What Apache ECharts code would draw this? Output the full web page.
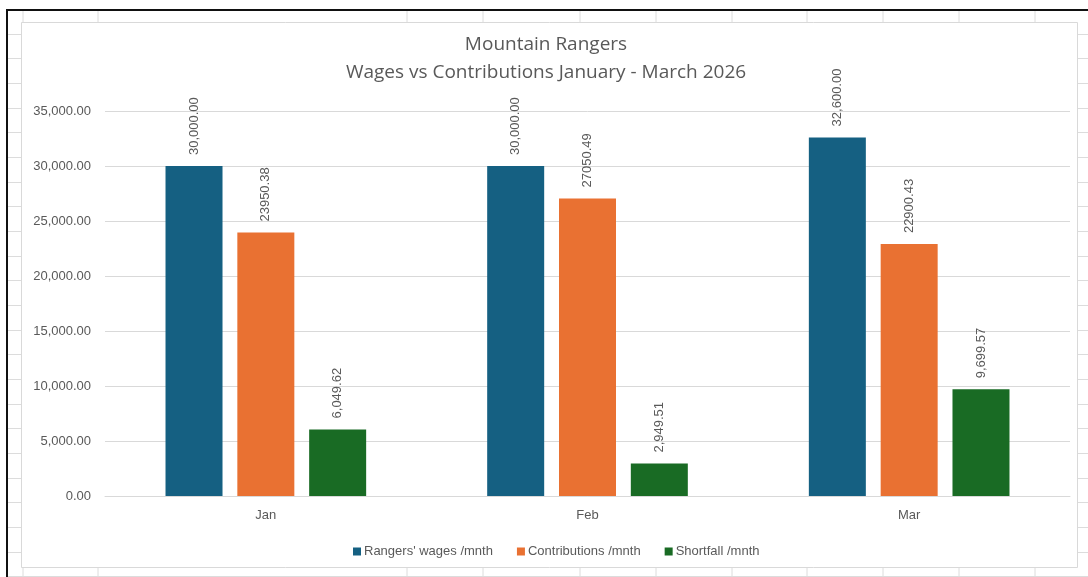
<!DOCTYPE html>
<html>
<head>
<meta charset="utf-8">
<script src="https://cdn.jsdelivr.net/npm/echarts@6/dist/echarts.min.js"></script>
<style>
  html, body { margin: 0; padding: 0; background: #fff; }
  #chart { width: 1088px; height: 577px; }
</style>
</head>
<body>
<div id="chart"></div>
<script>
// data
const months = ['Jan', 'Feb', 'Mar'];
const wages = [30000.00, 30000.00, 32600.00];
const contributions = [23950.38, 27050.49, 22900.43];
const shortfall = [6049.62, 2949.51, 9699.57];
const seriesNames = ["Rangers' wages /mnth", 'Contributions /mnth', 'Shortfall /mnth'];
const colors = ['#156082', '#E97132', '#196B24'];

const textGrey = '#595959';
const uiFont = "'Liberation Sans', Arial, sans-serif";

function money(v) {
  return v.toLocaleString('en-US', { minimumFractionDigits: 2, maximumFractionDigits: 2 });
}

// spreadsheet cells behind the chart (decoration only)
const sheet = [];
const colLines = [23, 98, 407, 483, 580, 656, 732, 807, 883, 959, 1035];
colLines.forEach(x => {
  sheet.push({ type: 'line', shape: { x1: x, y1: 10, x2: x, y2: 577 }, style: { stroke: '#dcdcdc', lineWidth: 1 } });
});
for (let y = 33.5; y < 577; y += 24.67) {
  sheet.push({ type: 'line', shape: { x1: 8, y1: Math.round(y) + 0.5, x2: 1088, y2: Math.round(y) + 0.5 }, style: { stroke: '#dcdcdc', lineWidth: 1 } });
}
// chart area box
sheet.push({ type: 'rect', shape: { x: 21.5, y: 22.5, width: 1056, height: 545 }, style: { fill: '#fff', stroke: '#d9d9d9', lineWidth: 1 } });
// black selection frame
sheet.push({ type: 'rect', shape: { x: 7, y: 10, width: 1090, height: 580 }, style: { fill: null, stroke: '#111', lineWidth: 2 } });

var dom = document.getElementById('chart');
var myChart = echarts.init(dom, null, { renderer: 'canvas' });

function barSeries(idx, data, fmt) {
  return {
    name: seriesNames[idx],
    type: 'bar',
    data: data,
    barWidth: 57,
    barGap: '26%',
    itemStyle: { color: colors[idx] },
    label: {
      show: true,
      position: 'top',
      rotate: 90,
      align: 'left',
      verticalAlign: 'middle',
      distance: 11,
      color: textGrey,
      fontFamily: uiFont,
      fontSize: 13,
      formatter: p => fmt(p.value)
    }
  };
}

var option = {
  backgroundColor: '#fff',
  animation: false,
  graphic: { elements: sheet.map(e => Object.assign({ z: -10, silent: true }, e)) },
  title: {
    text: 'Mountain Rangers\nWages vs Contributions January - March 2026',
    left: 541,
    top: 26,
    textAlign: 'center',
    textStyle: {
      color: textGrey,
      fontFamily: "'Open Sans', sans-serif",
      fontWeight: 500,
      fontSize: 19,
      lineHeight: 28
    }
  },
  legend: {
    data: seriesNames,
    left: 348,
    top: 540,
    icon: 'rect',
    itemWidth: 8,
    itemHeight: 8,
    itemGap: 24,
    textStyle: { color: textGrey, fontFamily: uiFont, fontSize: 13, padding: [0, 0, 0, -2] }
  },
  grid: { left: 105, right: 18, top: 111, bottom: 81, containLabel: false },
  xAxis: {
    type: 'category',
    data: months,
    axisLine: { lineStyle: { color: '#d9d9d9' } },
    axisTick: { show: false },
    axisLabel: { color: textGrey, fontFamily: uiFont, fontSize: 13, margin: 13 }
  },
  yAxis: {
    type: 'value',
    min: 0,
    max: 35000,
    interval: 5000,
    axisLine: { show: false },
    axisTick: { show: false },
    splitLine: { lineStyle: { color: '#d9d9d9' } },
    axisLabel: { color: textGrey, fontFamily: uiFont, fontSize: 13, margin: 14, formatter: v => money(v) }
  },
  series: [
    barSeries(0, wages, money),
    barSeries(1, contributions, v => v.toFixed(2)),
    barSeries(2, shortfall, money)
  ]
};

myChart.setOption(option);
window.addEventListener('resize', myChart.resize);
</script>
</body>
</html>
